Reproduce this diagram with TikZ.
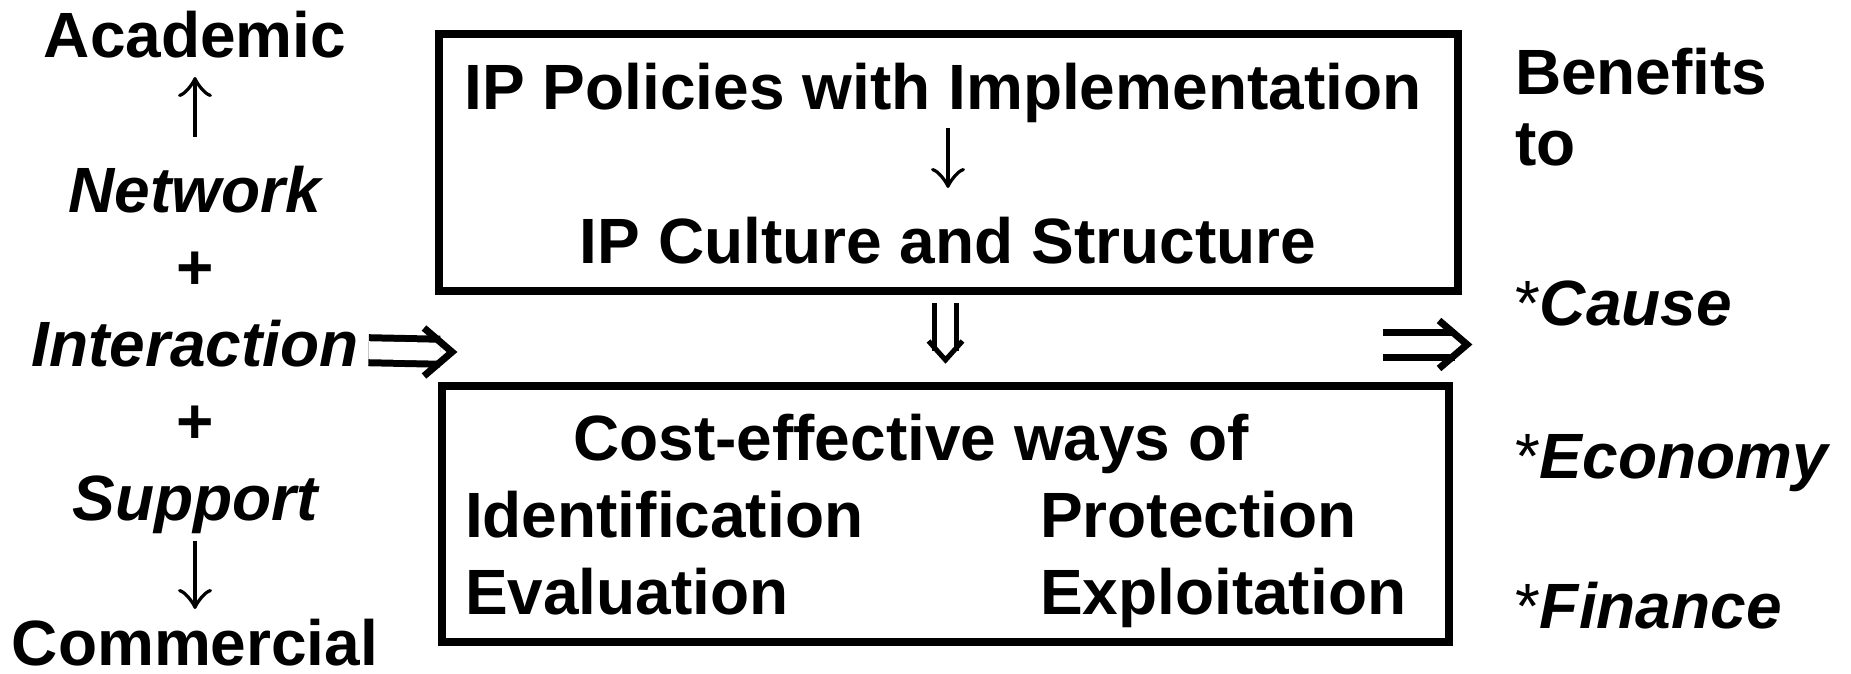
\documentclass[tikz,border=0pt]{standalone}
\usepackage{fontspec}
\setmainfont{Liberation Sans}
\usetikzlibrary{positioning,arrows.meta}

\begin{document}
\begin{tikzpicture}[x=0.5pt,y=0.5pt,node distance=38.5pt,on grid,
  txt/.style={font=\fontsize{32}{38}\selectfont\bfseries,inner sep=0pt,outer sep=0pt,text height=24pt,text depth=8pt},
  box/.style={draw,line width=4pt,inner sep=0pt},
  sarr/.style={line width=2pt,-{Classical TikZ Rightarrow[length=10pt,width=17pt]}},
  dbl/.style={double,double distance=9pt,line width=3.5pt},
  chev/.style={line width=3.5pt,line join=miter}]
  \useasboundingbox (0,0) rectangle (1851,-674);

  % left column
  \node[txt] (acad) at (195,-42) {Academic};
  \node[txt,below=77pt of acad] (net) {\itshape Network};
  \node[txt,below=of net] (plus1) {+};
  \node[txt,below=of plus1] (inter) {\itshape Interaction};
  \node[txt,below=of inter] (plus2) {+};
  \node[txt,below=of plus2] (supp) {\itshape Support};
  \node[txt,below=68.5pt of supp,text depth=0pt] (comm) {Commercial};

  % the two boxes
  \node[box,minimum width=509.5pt,minimum height=128.5pt] (top) at (948.5,-162.5) {};
  \node[box,minimum width=503.5pt,minimum height=128pt] (bot) at (945.5,-514) {};

  \node[txt,anchor=base] (pol) at (943,-110) {IP Policies with Implementation};
  \node[txt,anchor=base] (cult) at (948,-263) {IP Culture and Structure};

  \node[txt,anchor=base] (cost) at (911,-460) {Cost-effective ways of};
  \node[txt,anchor=base west] (ident) at (465,-537) {Identification};
  \node[txt,anchor=base west] (prot) at (1040,-537) {Protection};
  \node[txt,below=of ident.west,anchor=west] (eval) {Evaluation};
  \node[txt,below=of prot.west,anchor=west] (expl) {Exploitation};

  % right column
  \node[txt,anchor=west] (benef) at (1515,-79) {Benefits};
  \node[txt,below=35pt of benef.west,anchor=west] (to) {to};
  \node[txt,anchor=west] (cause) at (1515,-309) {{\mdseries*}\itshape Cause};
  \node[txt,below=76.5pt of cause.west,anchor=west] (econ) {{\mdseries*}\itshape Economy};
  \node[txt,below=75pt of econ.west,anchor=west] (fin) {{\mdseries*}\itshape Finance};

  \coordinate (lin) at (452,-352);
  \coordinate (rout) at (1383,-344.5);
  \coordinate (rin) at (1467,-344.5);
  \coordinate (dtip) at ([yshift=11pt]bot.north);

  % connectors
  \draw[sarr,shorten <=13.5pt,shorten >=1.5pt] (net) -- (acad);
  \draw[sarr,shorten <=2.5pt,shorten >=4pt] (supp) -- (comm);
  \draw[sarr,shorten <=1pt,shorten >=13.5pt] (pol.south -| cult.north) -- (cult.north);
  \draw[dbl,line width=2.5pt,double distance=8.5pt,shorten <=4pt,shorten >=4.5pt] (top.south -| bot.north) -- (dtip);
  \draw[chev,line width=2.5pt] ([shift={(-8.5pt,9.5pt)}]dtip) -- (dtip) -- ([shift={(8.5pt,9.5pt)}]dtip);
  \draw[dbl,shorten <=5pt,shorten >=6pt] (inter.east) -- (lin);
  \draw[chev] ([shift={(-14pt,12pt)}]lin) -- (lin) -- ([shift={(-14pt,-12pt)}]lin);
  \draw[dbl,shorten >=6pt] (rout) -- (rin);
  \draw[chev] ([shift={(-14pt,12pt)}]rin) -- (rin) -- ([shift={(-14pt,-12pt)}]rin);
\end{tikzpicture}
\end{document}
